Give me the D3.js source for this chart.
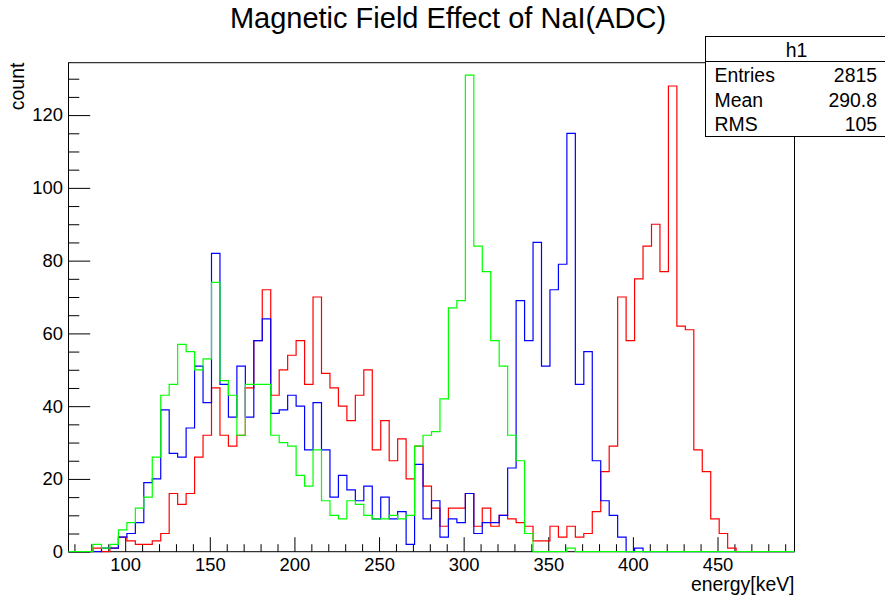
<!DOCTYPE html>
<html>
<head>
<meta charset="utf-8">
<script src="https://cdn.jsdelivr.net/npm/d3@7"></script>
<style>
  html, body { margin: 0; padding: 0; background: #ffffff; }
  svg { display: block; font-family: "Liberation Sans", Arial, Helvetica, sans-serif; }
</style>
</head>
<body>
<svg id="chart" width="885" height="598"></svg>
<script>
// ---------------- data ----------------
const title = "Magnetic Field Effect of NaI(ADC)";
const xTitle = "energy[keV]";
const yTitle = "count";
const binStart = 66;   // low edge of first bin (keV)
const binWidth = 5;    // keV
const xDomain = [66.5, 495.5];
const yMax = 134.4;
const xMajorTicks = [100, 150, 200, 250, 300, 350, 400, 450];
const yMajorTicks = [0, 20, 40, 60, 80, 100, 120];

const redCounts = [0,0,0,1,0,1,4,3,2,2,3,5,16,13,16,26,32,45,32,29,32,45,58,72,43,50,54,58,46,70,
  49,45,40,36,43,50,28,36,25,31,20,29,18,12,7,12,12,16,7,12,7,10,9,8,7,3,3,7,4,7,
  4,5,11,22,29,70,58,75,84,90,77,128,62,61,28,22,9,5,1,0,0,0,0,0,0,0];
const blueCounts = [0,0,0,0,1,1,4,5,8,19,20,39,27,26,34,51,41,82,46,37,51,37,58,64,38,39,43,40,28,41,
  28,15,21,17,14,18,9,15,9,11,2,24,9,14,4,9,8,16,5,8,8,10,23,69,58,85,51,72,79,115,
  46,55,25,14,10,4,0,1,0,0,0,0,0,0,0,0,0,0,0,0,0,0,0,0,0,0];
const greenCounts = [0,0,0,2,1,2,6,8,12,15,26,43,46,57,55,50,53,74,47,43,32,46,46,46,32,30,29,21,18,28,
  14,10,9,14,13,10,9,9,10,9,10,29,32,33,42,67,69,131,84,77,58,51,32,25,5,0,0,0,0,1,
  0,0,0,0,0,0,0,0,0,0,0,0,0,0,0,0,0,0,0,0,0,0,0,0,0,0];

const statsName = "h1";
const statsLabels = ["Entries", "Mean", "RMS"];
const statsValues = ["2815", "290.8", "105"];

// draw order: red (h1) first, then blue, then green on top
const seriesList = [
  { counts: redCounts, color: "#ff0000" },
  { counts: blueCounts, color: "#0000ff" },
  { counts: greenCounts, color: "#00ff00" }
];

// ---------------- layout ----------------
const frame = { left: 68.5, right: 794.5, top: 62.7, bottom: 551.7 };
const svg = d3.select("#chart");

const x = d3.scaleLinear().domain(xDomain).range([frame.left, frame.right]);
const y = d3.scaleLinear().domain([0, yMax]).range([frame.bottom, frame.top]);

svg.append("rect").attr("width", 885).attr("height", 598).attr("fill", "#fff");

// frame (drawn first, histograms go over it)
svg.append("rect")
  .attr("x", frame.left).attr("y", frame.top)
  .attr("width", frame.right - frame.left).attr("height", frame.bottom - frame.top)
  .attr("fill", "none").attr("stroke", "#000").attr("stroke-width", 1);

// x axis ticks (inside the frame, pointing up)
const xMinorTicks = d3.range(70, 495, 10).filter(v => !xMajorTicks.includes(v));
svg.append("g").attr("transform", `translate(0,${frame.bottom})`)
  .call(d3.axisBottom(x).tickValues(xMinorTicks).tickSize(-7.5).tickFormat(""))
  .call(g => g.select(".domain").remove())
  .call(g => g.selectAll("line").attr("stroke", "#000"));
svg.append("g").attr("transform", `translate(0,${frame.bottom})`)
  .call(d3.axisBottom(x).tickValues(xMajorTicks).tickSize(-14.5).tickPadding(6.2).tickFormat(d3.format("d")))
  .call(g => g.select(".domain").remove())
  .call(g => g.selectAll("line").attr("stroke", "#000"))
  .call(g => g.selectAll("text").attr("fill", "#000")
      .style("font-size", "18.4px").style("font-family", "'Liberation Sans', Arial, sans-serif"));

// y axis ticks (inside the frame, pointing right)
const yMinorTicks = d3.range(0, 135, 5).filter(v => !yMajorTicks.includes(v));
svg.append("g").attr("transform", `translate(${frame.left},0)`)
  .call(d3.axisLeft(y).tickValues(yMinorTicks).tickSize(-10.8).tickFormat(""))
  .call(g => g.select(".domain").remove())
  .call(g => g.selectAll("line").attr("stroke", "#000"));
svg.append("g").attr("transform", `translate(${frame.left},0)`)
  .call(d3.axisLeft(y).tickValues(yMajorTicks).tickSize(-21.7).tickPadding(5.5).tickFormat(d3.format("d")))
  .call(g => g.select(".domain").remove())
  .call(g => g.selectAll("line").attr("stroke", "#000"))
  .call(g => g.selectAll("text").attr("fill", "#000")
      .style("font-size", "18.4px").style("font-family", "'Liberation Sans', Arial, sans-serif"));

// clip
svg.append("clipPath").attr("id", "frameClip")
  .append("rect")
  .attr("x", frame.left).attr("y", frame.top - 2)
  .attr("width", frame.right - frame.left).attr("height", frame.bottom - frame.top + 3);

// histograms
function histPath(counts) {
  const p = d3.path();
  p.moveTo(x(binStart), y(0));
  counts.forEach((c, i) => {
    const lo = binStart + i * binWidth;
    const hi = lo + binWidth;
    p.lineTo(x(lo), y(c));
    p.lineTo(x(hi), y(c));
  });
  p.lineTo(x(binStart + counts.length * binWidth), y(0));
  return p.toString();
}

const gHist = svg.append("g").attr("clip-path", "url(#frameClip)");
seriesList.forEach(s => {
  gHist.append("path")
    .attr("d", histPath(s.counts))
    .attr("fill", "none")
    .attr("stroke", s.color)
    .attr("stroke-width", 1.2)
    .attr("stroke-linejoin", "miter");
});

// title
svg.append("text")
  .attr("x", 448).attr("y", 28)
  .attr("text-anchor", "middle")
  .style("font-size", "29px")
  .text(title);

// axis titles
svg.append("text")
  .attr("x", frame.right).attr("y", 591)
  .attr("text-anchor", "end")
  .style("font-size", "19.4px")
  .text(xTitle);
svg.append("text")
  .attr("transform", `translate(24,${frame.top}) rotate(-90)`)
  .attr("text-anchor", "end")
  .style("font-size", "19.4px")
  .text(yTitle);

// stats box
const box = { left: 705.5, top: 36.5, right: 885.5, bottom: 136.5, header: 61.5 };
const gStats = svg.append("g");
gStats.append("rect")
  .attr("x", box.left).attr("y", box.top)
  .attr("width", box.right - box.left).attr("height", box.bottom - box.top)
  .attr("fill", "#fff").attr("stroke", "#000").attr("stroke-width", 1);
gStats.append("line")
  .attr("x1", box.left).attr("x2", box.right)
  .attr("y1", box.header).attr("y2", box.header)
  .attr("stroke", "#000");
gStats.append("text")
  .attr("x", 796.5).attr("y", 57)
  .attr("text-anchor", "middle")
  .style("font-size", "19.4px")
  .text(statsName);
statsLabels.forEach((lab, i) => {
  const by = 82.3 + i * 24.3;
  gStats.append("text").attr("x", 714.5).attr("y", by)
    .style("font-size", "19.4px").text(lab);
  gStats.append("text").attr("x", 877).attr("y", by)
    .attr("text-anchor", "end")
    .style("font-size", "19.4px").text(statsValues[i]);
});
</script>
</body>
</html>
